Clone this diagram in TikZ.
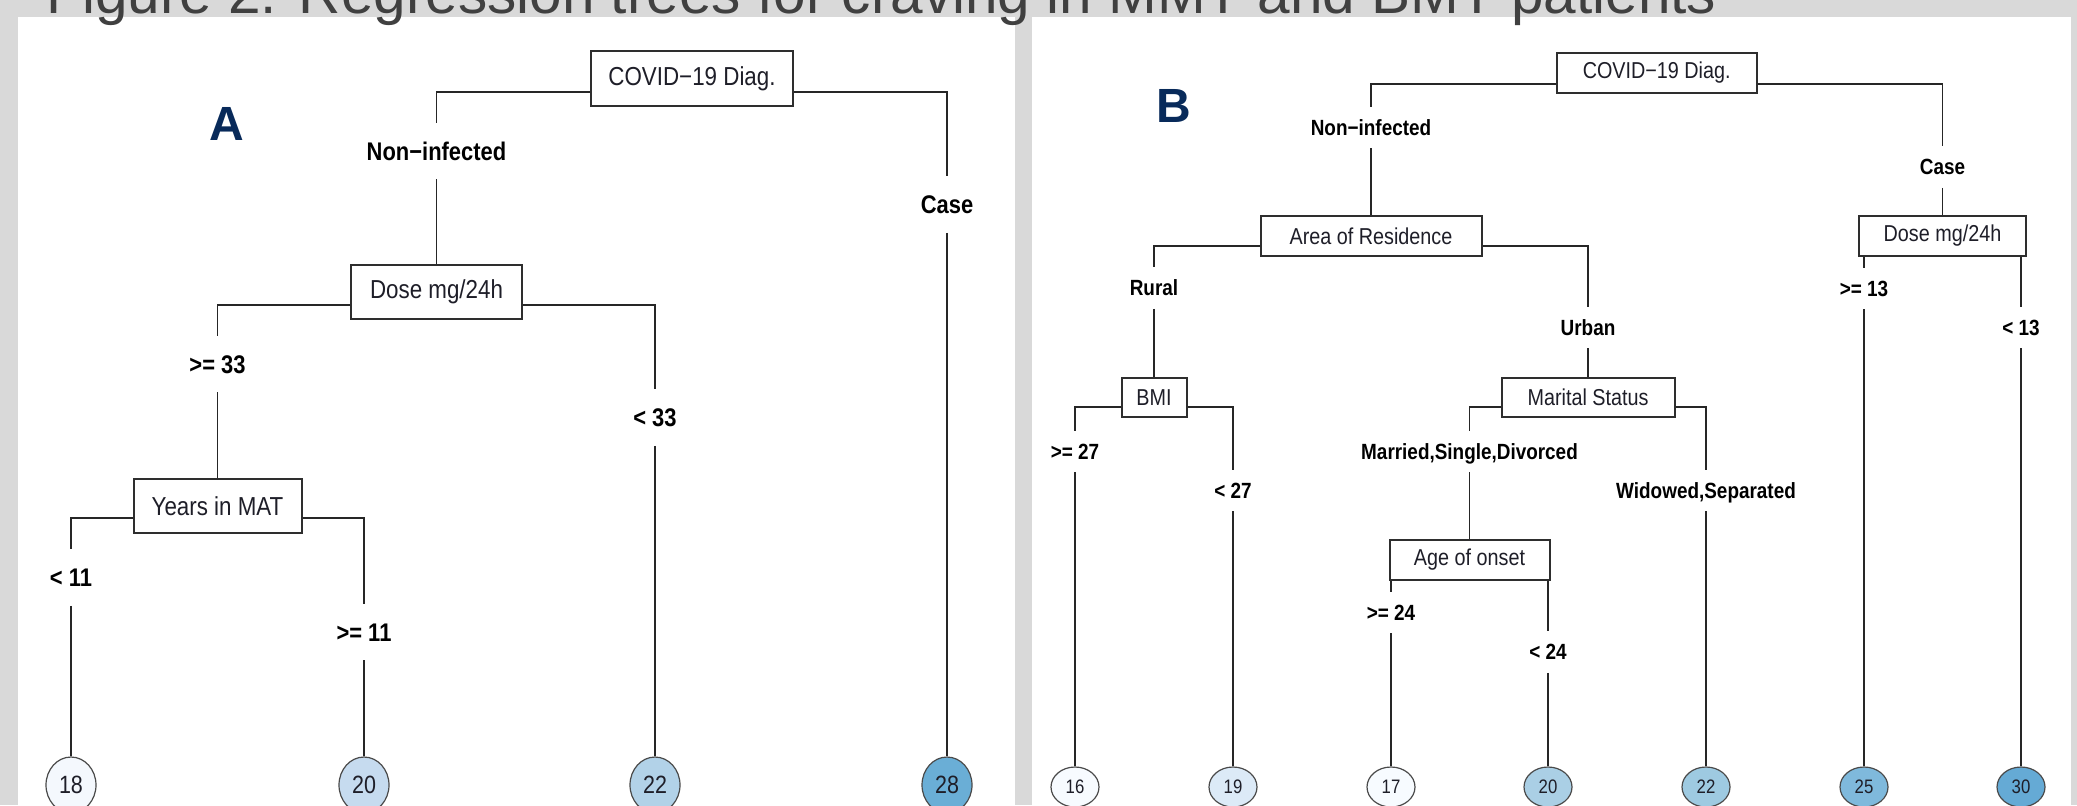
\documentclass[tikz,border=0pt]{standalone}
\usepackage{fontspec}
\setmainfont{Liberation Sans}
\newfontfamily\nf{Liberation Sans}[FakeStretch=0.86]
\usetikzlibrary{shapes.geometric}
\definecolor{pagegray}{HTML}{D9D9D9}
\definecolor{titlec}{HTML}{404040}
\definecolor{navy}{RGB}{8,42,90}
\definecolor{txt}{RGB}{30,30,40}
\definecolor{boxc}{HTML}{2E2E2E}
\definecolor{linec}{HTML}{262626}
\definecolor{leafc}{HTML}{4A4A4A}
\definecolor{cA18}{HTML}{F4F8FD}
\definecolor{cA20}{HTML}{C6DBEF}
\definecolor{cA22}{HTML}{B2D2E8}
\definecolor{cA28}{HTML}{6AAED6}
\definecolor{cB16}{HTML}{F7FBFF}
\definecolor{cB19}{HTML}{DCEAF7}
\definecolor{cB17}{HTML}{F7FBFF}
\definecolor{cB20}{HTML}{AACFE5}
\definecolor{cB22}{HTML}{9ECAE1}
\definecolor{cB25}{HTML}{7FB9DC}
\definecolor{cB30}{HTML}{65AAD5}
\tikzset{
  boxA/.style={draw=boxc, line width=1pt, fill=white, inner sep=0pt, text=txt,
    font=\nf\fontsize{13}{15}\selectfont},
  boxB/.style={draw=boxc, line width=1pt, fill=white, inner sep=0pt, text=txt,
    font=\nf\fontsize{11.5}{13}\selectfont},
  labA/.style={inner sep=0pt, text=black, minimum height=28pt,
    text height=9.2pt, text depth=0pt,
    font=\nf\bfseries\fontsize{12.75}{15}\selectfont},
  labB/.style={inner sep=0pt, text=black, minimum height=20.5pt,
    text height=7.9pt, text depth=0pt,
    font=\nf\bfseries\fontsize{11}{13}\selectfont},
  leafA/.style={ellipse, draw=leafc, line width=0.6pt, inner sep=0pt, text=txt,
    minimum width=25pt, minimum height=28pt,
    font=\nf\fontsize{12.5}{14}\selectfont},
  leafB/.style={ellipse, draw=leafc, line width=0.6pt, inner sep=0pt, text=txt,
    minimum width=24pt, minimum height=20pt,
    font=\nf\fontsize{9.75}{11}\selectfont},
  edgeline/.style={draw=linec, line width=0.75pt},
  panelletter/.style={inner sep=0pt, text=navy, font=\bfseries\fontsize{24}{28}\selectfont}
}
\begin{document}
\begin{tikzpicture}[x=0.5pt, y=-0.5pt]
\clip (0,0) rectangle (2077,805);
% background and panels
\fill[pagegray] (0,0) rectangle (2077,805);
\fill[white] (18,17) rectangle (1015,805);
\fill[white] (1032,17) rectangle (2071,805);
\node[anchor=base west, inner sep=0pt, text=titlec, font=\fontsize{29.25}{33}\selectfont] (title) at (46,13)
  {Figure 2. Regression trees for craving in MMT and BMT patients};
\node[panelletter, anchor=base] (lettA) at (226.5,140) {A};
\node[panelletter, anchor=base] (lettB) at (1174,122) {B};

% ---------- Panel A ----------
\node[boxA, minimum width=101pt, minimum height=27.5pt] (a1) at (692,78.5) {COVID−19 Diag.};
\node[boxA, minimum width=85.5pt, minimum height=27pt] (a2) at (436.5,292) {Dose mg/24h};
\node[boxA, minimum width=84pt, minimum height=27pt] (a3) at (217.5,506) {Years in MAT};
\coordinate (a1s) at (692,92);
\coordinate (a2s) at (436.5,305);
\coordinate (a3s) at (217.5,518);

\node[leafA, fill=cA18] (a18) at (71,785) {18};
\node[leafA, fill=cA20] (a20) at (364,785) {20};
\node[leafA, fill=cA22] (a22) at (655,785) {22};
\node[leafA, fill=cA28] (a28) at (947,785) {28};

\node[labA] (la1) at (436.5,151) {Non−infected};
\node[labA] (la2) at (947,204.5) {Case};
\node[labA] (la3) at (217.5,364) {>= 33};
\node[labA] (la4) at (655,417.5) {< 33};
\node[labA] (la5) at (71,577.5) {< 11};
\node[labA] (la6) at (364,632) {>= 11};

\draw[edgeline] (a1.west |- a1s) -| (la1.north);
\draw[edgeline] (la1.south) -- (a2.north);
\draw[edgeline] (a1.east |- a1s) -| (la2.north);
\draw[edgeline] (la2.south) -- (a28.north);
\draw[edgeline] (a2.west |- a2s) -| (la3.north);
\draw[edgeline] (la3.south) -- (a3.north);
\draw[edgeline] (a2.east |- a2s) -| (la4.north);
\draw[edgeline] (la4.south) -- (a22.north);
\draw[edgeline] (a3.west |- a3s) -| (la5.north);
\draw[edgeline] (la5.south) -- (a18.north);
\draw[edgeline] (a3.east |- a3s) -| (la6.north);
\draw[edgeline] (la6.south) -- (a20.north);

% ---------- Panel B ----------
\node[boxB, minimum width=100pt, minimum height=20pt] (b1) at (1656.7,73) {COVID−19 Diag.};
\node[boxB, minimum width=110.5pt, minimum height=20pt] (b2) at (1371,236) {Area of Residence};
\node[boxB, minimum width=83.5pt, minimum height=20pt] (b3) at (1942.5,236) {Dose mg/24h};
\node[boxB, minimum width=32.5pt, minimum height=19.5pt] (b4) at (1154,397.5) {BMI};
\node[boxB, minimum width=86.5pt, minimum height=19.5pt] (b5) at (1588,397.5) {Marital Status};
\node[boxB, minimum width=80pt, minimum height=20pt] (b6) at (1469.5,560) {Age of onset};
\coordinate (b1s) at (1656.7,84);
\coordinate (b2s) at (1371,246);
\coordinate (b4s) at (1154,407);
\coordinate (b5s) at (1588,407);

\node[leafB, fill=cB16] (b16) at (1075,787) {16};
\node[leafB, fill=cB19] (b19) at (1233,787) {19};
\node[leafB, fill=cB17] (b17) at (1391,787) {17};
\node[leafB, fill=cB20] (b20) at (1548,787) {20};
\node[leafB, fill=cB22] (b22) at (1706,787) {22};
\node[leafB, fill=cB25] (b25) at (1864,787) {25};
\node[leafB, fill=cB30] (b30) at (2021,787) {30};

\node[labB] (lb1) at (1371,127.5) {Non−infected};
\node[labB] (lb2) at (1942.5,167) {Case};
\node[labB] (lb3) at (1154,288) {Rural};
\node[labB] (lb4) at (1588,327.5) {Urban};
\node[labB] (lb5) at (1864,288.5) {>= 13};
\node[labB] (lb6) at (2021,327.5) {< 13};
\node[labB] (lb7) at (1075,451.5) {>= 27};
\node[labB] (lb8) at (1233,490.5) {< 27};
\node[labB] (lb9) at (1469.5,451.5) {Married,Single,Divorced};
\node[labB] (lb10) at (1706,490.5) {Widowed,Separated};
\node[labB] (lb11) at (1391,612.5) {>= 24};
\node[labB] (lb12) at (1548,652) {< 24};

\draw[edgeline] (b1.west |- b1s) -| (lb1.north);
\draw[edgeline] (lb1.south) -- (b2.north);
\draw[edgeline] (b1.east |- b1s) -| (lb2.north);
\draw[edgeline] (lb2.south) -- (b3.north);
\draw[edgeline] (b2.west |- b2s) -| (lb3.north);
\draw[edgeline] (lb3.south) -- (b4.north);
\draw[edgeline] (b2.east |- b2s) -| (lb4.north);
\draw[edgeline] (lb4.south) -- (b5.north);
\draw[edgeline] (lb5.north |- b3.south) -- (lb5.north);
\draw[edgeline] (lb5.south) -- (b25.north);
\draw[edgeline] (lb6.north |- b3.south) -- (lb6.north);
\draw[edgeline] (lb6.south) -- (b30.north);
\draw[edgeline] (b4.west |- b4s) -| (lb7.north);
\draw[edgeline] (lb7.south) -- (b16.north);
\draw[edgeline] (b4.east |- b4s) -| (lb8.north);
\draw[edgeline] (lb8.south) -- (b19.north);
\draw[edgeline] (b5.west |- b5s) -| (lb9.north);
\draw[edgeline] (lb9.south) -- (b6.north);
\draw[edgeline] (b5.east |- b5s) -| (lb10.north);
\draw[edgeline] (lb10.south) -- (b22.north);
\draw[edgeline] (lb11.north |- b6.south) -- (lb11.north);
\draw[edgeline] (lb11.south) -- (b17.north);
\draw[edgeline] (lb12.north |- b6.south) -- (lb12.north);
\draw[edgeline] (lb12.south) -- (b20.north);
\end{tikzpicture}
\end{document}
